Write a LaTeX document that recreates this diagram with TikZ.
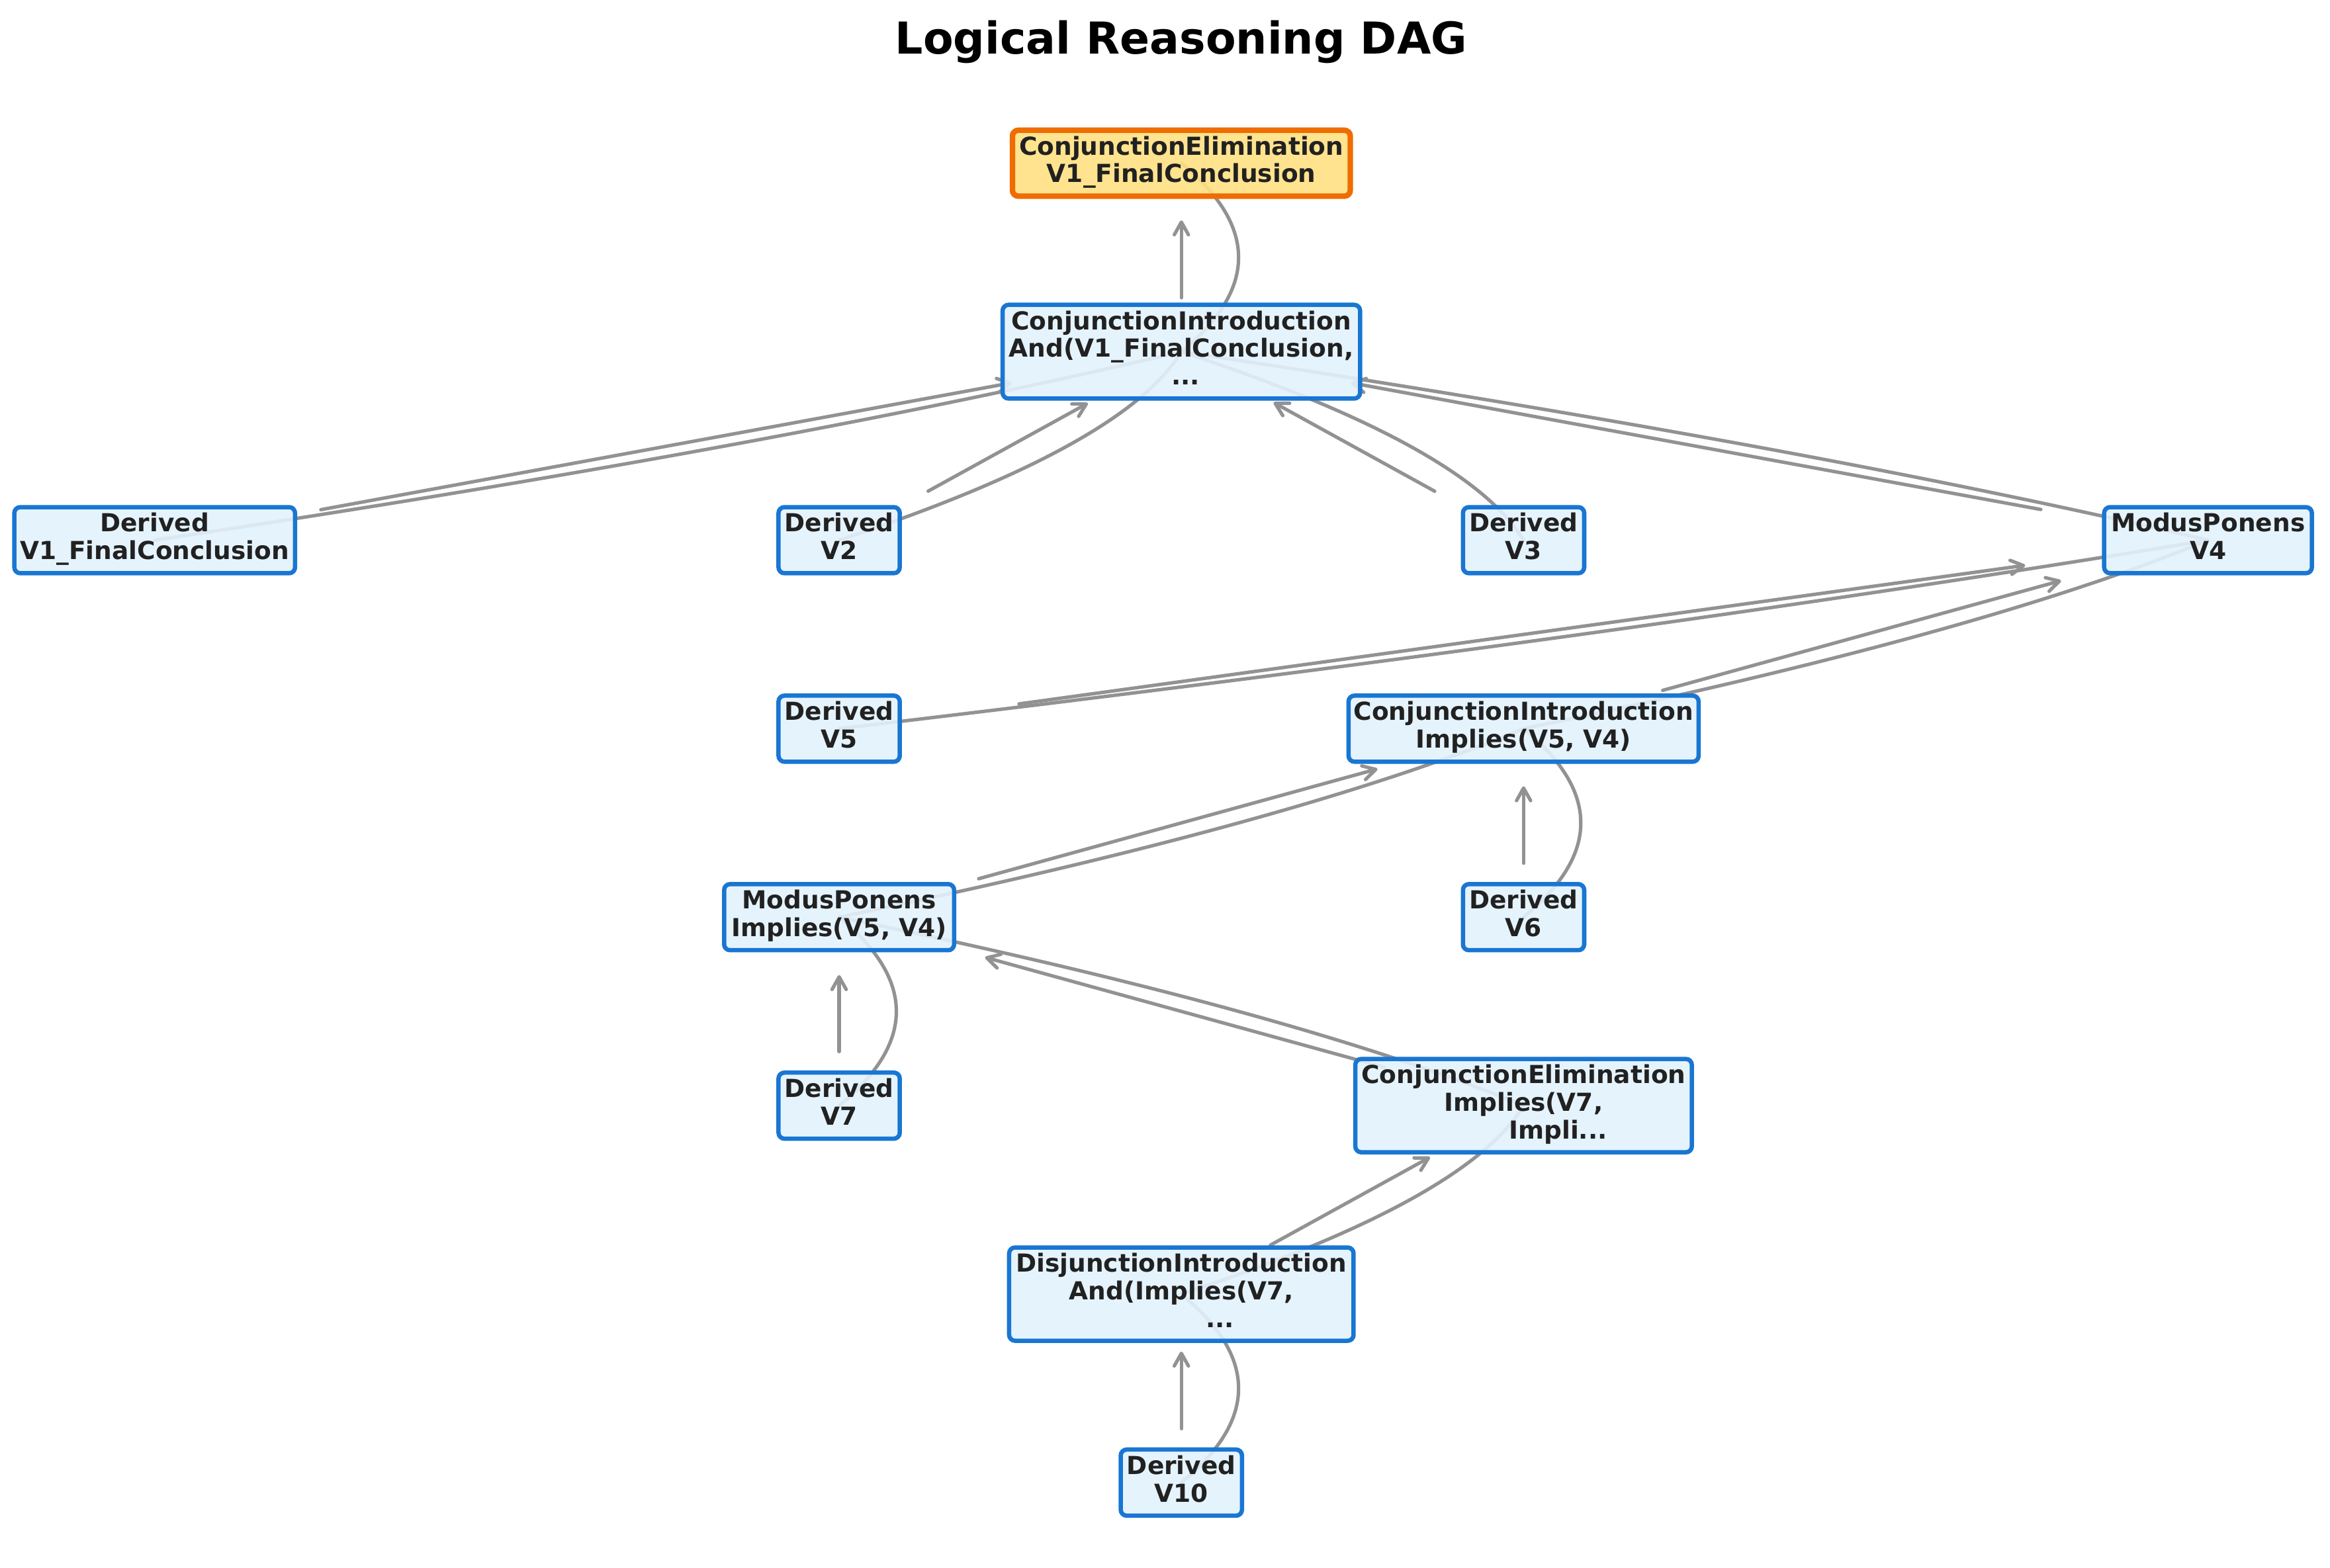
\documentclass[tikz,border=0pt]{standalone}
\usepackage{fontspec}
\setmainfont{DejaVu Sans}
\usetikzlibrary{arrows.meta,calc}
\definecolor{nodeblue}{HTML}{1976D2}
\definecolor{nodefill}{HTML}{E3F2FD}
\definecolor{hlorange}{HTML}{EF6C00}
\definecolor{hlfill}{HTML}{FFE082}
\definecolor{edgegray}{RGB}{146,146,146}
\definecolor{txt}{HTML}{212121}
\pgfdeclarelayer{paper}
\pgfdeclarelayer{edges}
\pgfsetlayers{paper,edges,main}
\newcommand\nodelines[1]{\begin{tabular}{@{}c@{}}#1\end{tabular}}
\newcommand\straightedge[4]{\draw[arrowline, shorten <=#3pt, shorten >=#4pt] (#1.center) -- (#2.center);}
\newcommand\curvededge[2]{\draw[curveline] (#1.center) .. controls ($(#1.center)!1/3!(#2.center)+(51.33,0)$) and ($(#1.center)!2/3!(#2.center)+(51.33,0)$) .. (#2.center);}
\tikzset{
  box/.style={draw=nodeblue, fill=nodefill, line width=2.9pt, rounded corners=4pt,
    fill opacity=0.9, text opacity=1, text=txt, inner sep=2pt,
    font=\fontsize{16.7pt}{18.56pt}\selectfont\bfseries},
  goalbox/.style={box, draw=hlorange, fill=hlfill, line width=3.7pt},
  derivedbox/.style={box, minimum width=81.6pt, minimum height=44.5pt},
  arrowline/.style={draw=edgegray, line width=2.3pt, line cap=round,
    -{Straight Barb[length=8.5pt,width=9.5pt,round]}},
  curveline/.style={draw=edgegray, line width=2.3pt, line cap=round},
}
\begin{document}
\begin{tikzpicture}[x=1pt,y=-1pt]
\useasboundingbox (0,0) rectangle (1568,1055.4);
\begin{pgfonlayer}{paper}
\fill[white] (0,0) rectangle (1568,1055.4);
\end{pgfonlayer}

\node[font=\fontsize{29.6pt}{35pt}\selectfont\bfseries, anchor=base, text=black, inner sep=0pt] (title) at (794.9,36.1) {Logical Reasoning DAG};

\node[goalbox, minimum width=227.4pt, minimum height=44.4pt] (cet) at (795,109.85) {\nodelines{ConjunctionElimination\\V1\_FinalConclusion}};
\node[box, minimum width=240.6pt, minimum height=63.1pt] (cit) at (795,236.72) {\nodelines{ConjunctionIntroduction\\And(V1\_FinalConclusion,\\\hspace*{5.8pt}...}};
\node[box, minimum width=188.9pt, minimum height=44.5pt] (d1) at (104.1,363.59) {\nodelines{Derived\\V1\_FinalConclusion}};
\node[derivedbox] (d2) at (564.7,363.59) {\nodelines{Derived\\V2}};
\node[derivedbox] (d3) at (1025.3,363.59) {\nodelines{Derived\\V3}};
\node[box, minimum width=139.8pt, minimum height=44.5pt] (mp4) at (1485.9,363.59) {\nodelines{ModusPonens\\V4}};
\node[derivedbox] (d5) at (564.7,490.46) {\nodelines{Derived\\V5}};
\node[box, minimum width=235.6pt, minimum height=44.5pt] (cim) at (1025.3,490.46) {\nodelines{ConjunctionIntroduction\\Implies(V5, V4)}};
\node[box, minimum width=154.8pt, minimum height=44.5pt] (mpm) at (564.7,617.33) {\nodelines{ModusPonens\\Implies(V5, V4)}};
\node[derivedbox] (d6) at (1025.3,617.33) {\nodelines{Derived\\V6}};
\node[derivedbox] (d7) at (564.7,744.2) {\nodelines{Derived\\V7}};
\node[box, minimum width=226.5pt, minimum height=62.8pt] (cem) at (1025.3,744.2) {\nodelines{ConjunctionElimination\\Implies(V7,\\\hspace*{46.4pt}Impli...}};
\node[box, minimum width=231.8pt, minimum height=62.8pt] (di) at (795,871.07) {\nodelines{DisjunctionIntroduction\\And(Implies(V7,\\\hspace*{52.2pt}...}};
\node[derivedbox] (d10) at (795,997.94) {\nodelines{Derived\\V10}};

\begin{pgfonlayer}{edges}
\straightedge{cit}{cet}{36.3}{38.5}
\curvededge{cit}{cet}
\straightedge{d1}{cit}{113.7}{116}
\curvededge{d1}{cit}
\straightedge{d2}{cit}{68.4}{71.9}
\curvededge{d2}{cit}
\straightedge{d3}{cit}{68.3}{70.9}
\curvededge{d3}{cit}
\straightedge{mp4}{cit}{114.4}{116}
\curvededge{mp4}{cit}
\straightedge{d5}{mp4}{122.2}{124.2}
\curvededge{d5}{mp4}
\straightedge{cim}{mp4}{97.1}{102.6}
\curvededge{cim}{mp4}
\straightedge{mpm}{cim}{97.4}{102}
\curvededge{mpm}{cim}
\straightedge{d6}{cim}{36.3}{38.8}
\curvededge{d6}{cim}
\straightedge{d7}{mpm}{36.4}{39}
\curvededge{d7}{mpm}
\straightedge{cem}{mpm}{97}{101.9}
\curvededge{cem}{mpm}
\straightedge{di}{cem}{68.4}{71.9}
\curvededge{di}{cem}
\straightedge{d10}{di}{36.3}{38.7}
\curvededge{d10}{di}
\end{pgfonlayer}
\end{tikzpicture}
\end{document}
